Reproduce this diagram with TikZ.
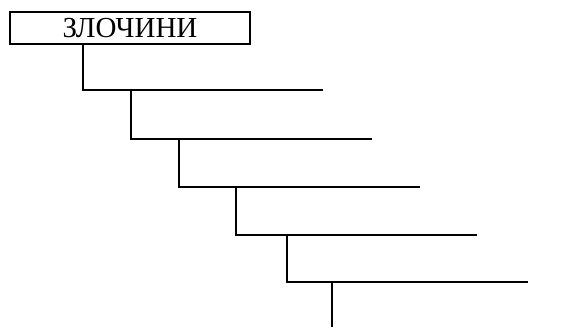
\documentclass[tikz,border=0pt]{standalone}
\usepackage{fontspec}
\setmainfont{Liberation Serif}
\usepackage{tikz}
\usetikzlibrary{positioning,calc}
\tikzset{
  titlebox/.style={draw=black,line width=1.8pt,minimum width=240pt,minimum height=32pt,inner sep=0pt,font=\fontsize{29}{32}\selectfont},
  branch/.style={line width=1.8pt,draw=black}
}
\begin{document}
\begin{tikzpicture}[x=1pt,y=1pt]
\useasboundingbox (0,0) rectangle (566,-329);
\node[titlebox] (crimes) at (130,-28) {\raisebox{-3pt}{ЗЛОЧИНИ}};
% step corners and line ends
\coordinate (k1) at (83,-90);  \coordinate (e1) at (323,-90);
\coordinate (k2) at (131,-139); \coordinate (e2) at (372,-139);
\coordinate (k3) at (179,-187); \coordinate (e3) at (420,-187);
\coordinate (k4) at (236,-235); \coordinate (e4) at (477,-235);
\coordinate (k5) at (287,-282); \coordinate (e5) at (528,-282);
\coordinate (tail) at (332,-327);
\draw[branch] (crimes.south -| k1) -- (k1) -- (e1);
\draw[branch] (k1 -| k2) -- (k2) -- (e2);
\draw[branch] (k2 -| k3) -- (k3) -- (e3);
\draw[branch] (k3 -| k4) -- (k4) -- (e4);
\draw[branch] (k4 -| k5) -- (k5) -- (e5);
\draw[branch] (k5 -| tail) -- (tail);
\end{tikzpicture}
\end{document}
